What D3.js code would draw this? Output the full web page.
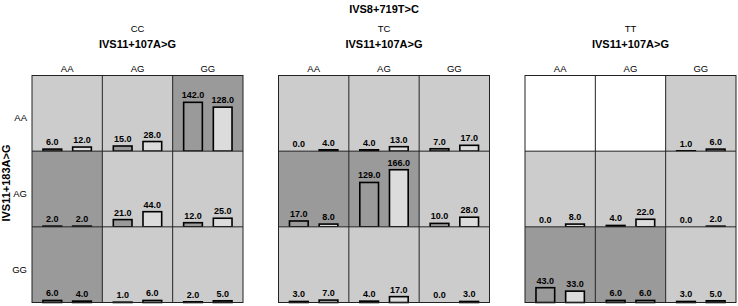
<!DOCTYPE html>
<html>
<head>
<meta charset="utf-8">
<script src="https://cdn.jsdelivr.net/npm/d3@7"></script>
<style>
  body { margin: 0; background: #fff; }
  text { font-family: "Liberation Sans", Arial, sans-serif; fill: #000; }
</style>
</head>
<body>
<svg id="chart" width="738" height="306"></svg>
<script>
// panels = genotype of IVS8+719T>C, columns = IVS11+107A>G, rows = IVS11+183A>G
var panels = ["CC", "TC", "TT"];
var cols = ["AA", "AG", "GG"];
var rows = ["AA", "AG", "GG"];

// first bar in each cell (row by row, per panel), null = no data
var firstBar = [
  [6, 15, 142, 2, 21, 12, 6, 1, 2],
  [0, 4, 7, 17, 129, 10, 3, 4, 0],
  [null, null, 1, 0, 4, 0, 43, 6, 3]
];
// second bar in each cell
var secondBar = [
  [12, 28, 128, 2, 44, 25, 4, 6, 5],
  [4, 13, 17, 8, 166, 28, 7, 17, 3],
  [null, null, 6, 8, 22, 2, 33, 6, 5]
];
// shading of each cell: n = none, l = low, h = high
var shade = [
  ["l", "l", "h", "h", "l", "l", "h", "l", "l"],
  ["l", "l", "l", "h", "h", "l", "l", "l", "l"],
  ["n", "n", "l", "l", "l", "l", "h", "h", "l"]
];

var svg = d3.select("#chart");

var shadeColor = d3.scaleOrdinal()
  .domain(["n", "l", "h"])
  .range(["#ffffff", "#cccccc", "#9a9a9a"]);
var barColor = ["#9a9a9a", "#dcdcdc"];

// layout scales
var panelX = d3.scaleBand().domain(panels).range([32, 736]).paddingInner(0.144);
var colX = d3.scaleBand().domain(cols).range([0, panelX.bandwidth()]);
var rowY = d3.scaleBand().domain(rows).range([75.5, 302.5]);
var barX = d3.scaleBand().domain([0, 1]).range([0, colX.bandwidth()]).padding(0.37);
var barY = d3.scaleLinear().domain([0, 220]).range([rowY.bandwidth(), 0]);

// titles
svg.append("text")
  .attr("x", panelX("TC") + panelX.bandwidth() / 2)
  .attr("y", 12.5)
  .attr("text-anchor", "middle")
  .style("font-size", "11px")
  .style("font-weight", "bold")
  .text("IVS8+719T>C");

svg.append("text")
  .attr("transform", "translate(9.5," + 183 + ") rotate(-90)")
  .attr("text-anchor", "middle")
  .style("font-size", "11px")
  .style("font-weight", "bold")
  .text("IVS11+183A>G");

rows.forEach(function(r) {
  svg.append("text")
    .attr("x", 27)
    .attr("y", rowY(r) + rowY.bandwidth() / 2 + 8)
    .attr("text-anchor", "end")
    .style("font-size", "9.5px")
    .text(r);
});

panels.forEach(function(p, pi) {
  var g = svg.append("g").attr("transform", "translate(" + panelX(p) + ",0)");
  var cx = panelX.bandwidth() / 2;

  g.append("text").attr("x", cx).attr("y", 32)
    .attr("text-anchor", "middle").style("font-size", "9.5px").text(p);
  g.append("text").attr("x", cx).attr("y", 48)
    .attr("text-anchor", "middle").style("font-size", "11px")
    .style("font-weight", "bold").text("IVS11+107A>G");

  cols.forEach(function(c) {
    g.append("text").attr("x", colX(c) + colX.bandwidth() / 2).attr("y", 71.5)
      .attr("text-anchor", "middle").style("font-size", "9.5px").text(c);
  });

  rows.forEach(function(r, ri) {
    cols.forEach(function(c, ci) {
      var k = ri * 3 + ci;
      var cell = g.append("g")
        .attr("transform", "translate(" + colX(c) + "," + rowY(r) + ")");

      cell.append("rect")
        .attr("width", colX.bandwidth())
        .attr("height", rowY.bandwidth())
        .attr("fill", shadeColor(shade[pi][k]));

      var vals = [firstBar[pi][k], secondBar[pi][k]];
      vals.forEach(function(v, bi) {
        if (v === null) return;
        if (v > 0) {
          cell.append("rect")
            .attr("x", barX(bi))
            .attr("y", barY(v))
            .attr("width", barX.bandwidth())
            .attr("height", barY(0) - barY(v))
            .attr("fill", barColor[bi])
            .attr("stroke", "#000")
            .attr("stroke-width", 1.6);
        }
        cell.append("text")
          .attr("x", barX(bi) + barX.bandwidth() / 2)
          .attr("y", barY(v) - 4)
          .attr("text-anchor", "middle")
          .style("font-size", "9px")
          .style("font-weight", "bold")
          .text(v.toFixed(1));
      });
    });
  });

  // grid lines and frame
  var w = panelX.bandwidth();
  var y0 = rowY.range()[0], y1 = rowY.range()[1];
  cols.slice(1).forEach(function(c) {
    g.append("line").attr("x1", colX(c)).attr("x2", colX(c))
      .attr("y1", y0).attr("y2", y1).attr("stroke", "#222").attr("stroke-width", 1);
  });
  rows.slice(1).forEach(function(r) {
    g.append("line").attr("x1", 0).attr("x2", w)
      .attr("y1", rowY(r)).attr("y2", rowY(r)).attr("stroke", "#222").attr("stroke-width", 1);
  });
  g.append("rect").attr("x", 0).attr("y", y0).attr("width", w).attr("height", y1 - y0)
    .attr("fill", "none").attr("stroke", "#222").attr("stroke-width", 1);
});
</script>
</body>
</html>
